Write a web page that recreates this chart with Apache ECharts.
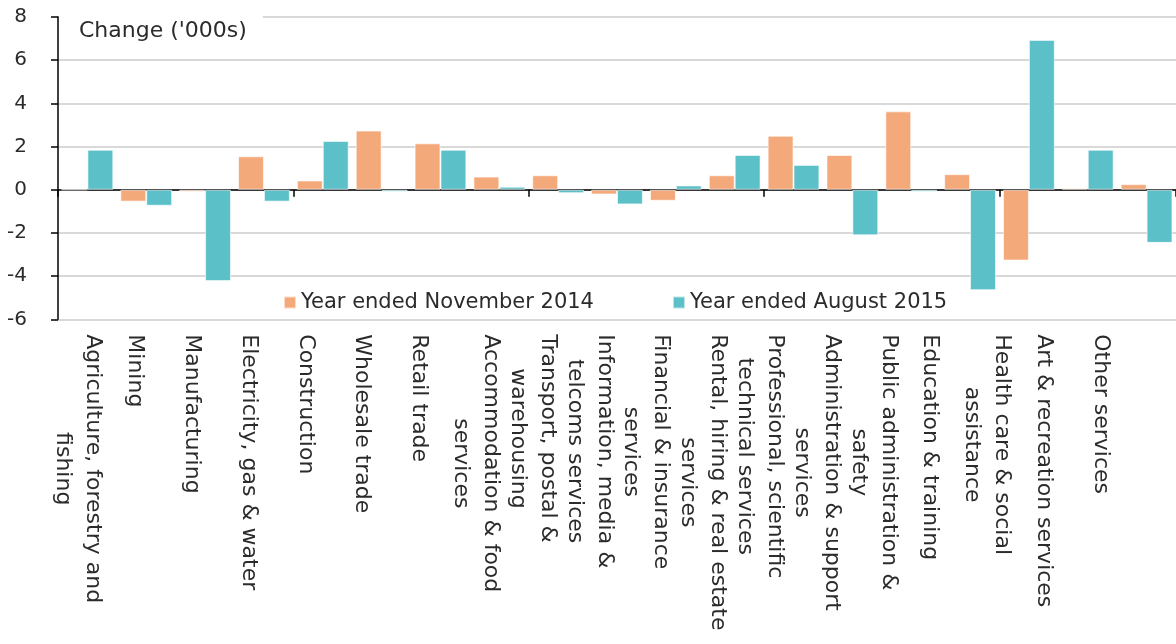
<!DOCTYPE html>
<html>
<head>
<meta charset="utf-8">
<script src="https://cdn.jsdelivr.net/npm/echarts@6/dist/echarts.min.js"></script>
<style>
  html, body { margin: 0; padding: 0; background: #fff; }
  #chart { width: 1176px; height: 644px; }
</style>
</head>
<body>
<div id="chart"></div>
<script>
// 行业名称（x轴）
var categories = [
  'Agriculture, forestry and\nfishing',
  'Mining',
  'Manufacturing',
  'Electricity, gas & water',
  'Construction',
  'Wholesale trade',
  'Retail trade',
  'Accommodation & food\nservices',
  'Transport, postal &\nwarehousing',
  'Information, media &\ntelcoms services',
  'Financial & insurance\nservices',
  'Rental, hiring & real estate\nservices',
  'Professional, scientific\ntechnical services',
  'Administration & support\nservices',
  'Public administration &\nsafety',
  'Education & training',
  'Health care & social\nassistance',
  'Art & recreation services',
  'Other services'
];
var seriesNames = ['Year ended November 2014', 'Year ended August 2015'];
var nov2014 = [0, -0.55, -0.09, 1.55, 0.43, 2.74, 2.15, 0.61, 0.67, -0.22, -0.51, 0.67, 2.5, 1.61, 3.63, 0.72, -3.28, 0.07, 0.26];
var aug2015 = [1.85, -0.74, -4.23, -0.55, 2.26, -0.09, 1.85, 0.14, -0.16, -0.68, 0.2, 1.61, 1.15, -2.11, -0.09, -4.65, 6.94, 1.85, -2.46];
var yTicks = [-6, -4, -2, 0, 2, 4, 6, 8];

var font = 'DejaVu Sans';
var textColor = '#2b2b2b';
var chart = echarts.init(document.getElementById('chart'));

var option = {
  animation: false,
  title: {
    text: "Change ('000s)",
    left: 59,
    top: 12,
    padding: [8, 16, 4, 20],
    backgroundColor: '#fff',
    textStyle: { fontFamily: font, fontSize: 22, fontWeight: 'normal', color: textColor }
  },
  legend: {
    data: seriesNames,
    left: 278,
    top: 287,
    icon: 'rect',
    itemWidth: 12,
    itemHeight: 12,
    itemGap: 78,
    textStyle: { fontFamily: font, fontSize: 21, color: textColor }
  },
  grid: [
    { left: 58, top: 17, width: 1121, bottom: 324.7 },
    // 只用来放旋转的类目标签
    { left: 49.8, top: 17, width: 1079, bottom: 324.7 }
  ],
  xAxis: [
    {
      type: 'category',
      gridIndex: 0,
      data: categories,
      axisLine: { show: true, onZero: true, lineStyle: { color: '#000', width: 1.5 } },
      axisTick: { show: true, length: 7, lineStyle: { color: '#000', width: 1.5 } },
      axisLabel: { show: false }
    },
    {
      type: 'category',
      gridIndex: 1,
      position: 'bottom',
      data: categories,
      axisLine: { show: false },
      axisTick: { show: false },
      axisLabel: {
        interval: 0,
        rotate: -90,
        margin: 15,
        formatter: function (v) {
          return v.split('\n').map(function (s) { return '{c|' + s + '}'; }).join('\n');
        },
        rich: {
          c: { align: 'center', fontFamily: font, fontSize: 22, lineHeight: 30, color: textColor }
        }
      }
    }
  ],
  yAxis: [
    {
      type: 'value',
      gridIndex: 0,
      min: -6,
      max: 8,
      interval: 2,
      axisLine: { show: true, lineStyle: { color: '#000', width: 1.5 } },
      axisTick: { show: true, inside: false, length: 7, lineStyle: { color: '#000', width: 1.5 } },
      axisLabel: {
        margin: 31,
        fontFamily: font,
        fontSize: 20,
        color: textColor,
        formatter: function (v) { return yTicks.indexOf(v) >= 0 ? String(v) : ''; }
      },
      splitLine: { show: true, lineStyle: { color: '#d9d9d9', width: 2 } }
    },
    {
      type: 'value',
      gridIndex: 1,
      show: false
    }
  ],
  series: [
    {
      name: seriesNames[0],
      type: 'bar',
      data: nov2014,
      barGap: 0,
      barCategoryGap: '12%',
      itemStyle: { color: '#f4a97b', borderColor: 'rgba(255,255,255,0.6)', borderWidth: 1 }
    },
    {
      name: seriesNames[1],
      type: 'bar',
      data: aug2015,
      barGap: 0,
      barCategoryGap: '12%',
      itemStyle: { color: '#5bc0c7', borderColor: 'rgba(255,255,255,0.6)', borderWidth: 1 }
    }
  ]
};
chart.setOption(option, true);
</script>
</body>
</html>
